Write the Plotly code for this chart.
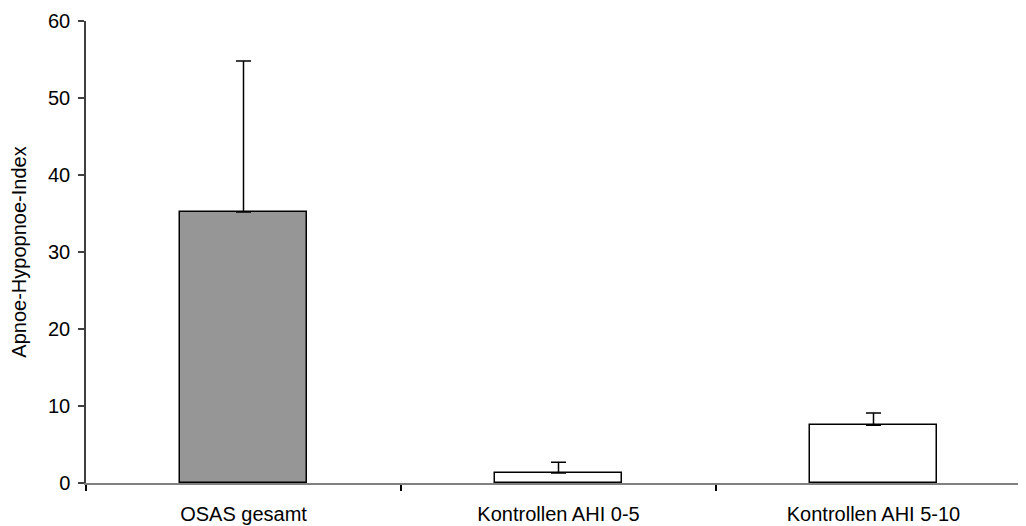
import plotly.graph_objects as go

categories = ["OSAS gesamt", "Kontrollen AHI 0-5", "Kontrollen AHI 5-10"]
means = [35.2, 1.3, 7.5]
sd_plus = [19.6, 1.4, 1.6]
bar_colors = ["#969696", "#ffffff", "#ffffff"]
y_ticks = [0, 10, 20, 30, 40, 50, 60]

fig = go.Figure()
fig.add_trace(go.Bar(
    x=categories, y=means,
    width=0.406,
    marker=dict(color=bar_colors, line=dict(color="black", width=1.5)),
    error_y=dict(type="data", array=sd_plus, arrayminus=[0, 0, 0], symmetric=False,
                 color="black", thickness=1.5, width=7.5),
))

fig.update_layout(
    width=1026, height=526,
    margin=dict(l=78, r=3, t=13, b=51),
    plot_bgcolor="white", paper_bgcolor="white",
    font=dict(family="Liberation Sans, Arial, sans-serif", size=20, color="black"),
    showlegend=False,
    bargap=0,
)
fig.update_xaxes(
    range=[-0.5, 2.5],
    showline=True, linecolor="#808080", linewidth=1.5,
    ticks="outside", tickson="boundaries", ticklen=6, tickcolor="black", tickwidth=1.5,
    showgrid=False, zeroline=False,
    tickfont=dict(size=20),
    ticklabelstandoff=12,
)
fig.update_yaxes(
    range=[0, 60],
    tickvals=y_ticks,
    showline=True, linecolor="#404040", linewidth=1.5,
    ticks="outside", ticklen=6, tickcolor="#404040", tickwidth=1.5,
    showgrid=False, zeroline=False,
    tickfont=dict(size=20),
    ticklabelstandoff=4,
    title=dict(text="Apnoe-Hypopnoe-Index", font=dict(size=20), standoff=17),
    automargin=False,
)

fig.write_html("out.html")
